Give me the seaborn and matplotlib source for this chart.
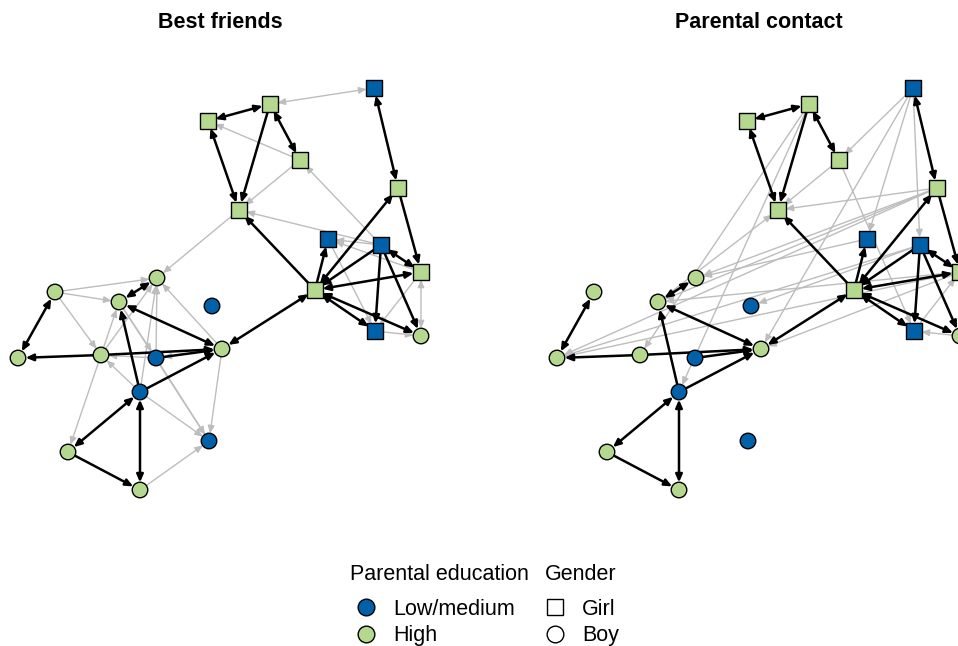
import pandas as pd
import matplotlib.pyplot as plt
from matplotlib.lines import Line2D
import seaborn as sns

# Node layout (shared by both panels)
node_names = ["A", "B", "C", "D", "E", "F", "G", "H", "I", "J", "K", "L",
              "M", "N", "O", "P", "Q", "R", "S", "T", "U", "V", "W", "X"]
node_x = [208, 270, 300, 239, 374, 398, 328, 381, 421, 315, 375, 421,
          55, 157, 119, 212, 222, 18, 101, 156, 140, 68, 209, 140]
node_y = [121, 104, 160, 210, 88, 188, 239, 245, 272, 290, 331, 336,
          292, 278, 302, 306, 349, 358, 355, 358, 392, 452, 441, 490]
node_edu = ["High", "High", "High", "High", "Low/medium", "High", "Low/medium",
            "Low/medium", "High", "High", "Low/medium", "High",
            "High", "High", "High", "Low/medium", "High", "High", "High",
            "Low/medium", "Low/medium", "High", "Low/medium", "High"]
node_gender = ["Girl"] * 11 + ["Boy"] * 13

# Strong ties (black), same in both panels: (from, to, mutual)
black_edges = [("A", "B", True), ("A", "D", True), ("B", "D", False), ("B", "C", True),
               ("E", "F", True), ("F", "I", False), ("J", "D", False), ("J", "G", False),
               ("J", "F", True), ("H", "J", False), ("I", "J", True), ("J", "K", True),
               ("J", "L", True), ("H", "K", False), ("H", "L", False), ("H", "I", True),
               ("Q", "J", True), ("M", "R", True), ("O", "N", True), ("O", "Q", True),
               ("U", "O", False), ("S", "R", False), ("S", "Q", False), ("T", "Q", False),
               ("U", "Q", False), ("U", "V", True), ("U", "X", True), ("V", "X", False)]

# Weaker ties (grey), per panel
gray_friends = [("E", "B", True), ("C", "A", False), ("C", "D", False), ("H", "C", False),
                ("H", "D", False), ("H", "G", False), ("I", "G", False), ("G", "K", False),
                ("I", "K", False), ("K", "L", False), ("L", "I", True), ("D", "N", False),
                ("M", "N", False), ("M", "O", False), ("M", "S", False), ("Q", "N", False),
                ("S", "N", False), ("S", "O", False), ("T", "N", False), ("U", "N", False),
                ("O", "T", False), ("T", "S", False), ("U", "S", False), ("Q", "T", False),
                ("Q", "W", False), ("O", "W", False), ("T", "W", False), ("U", "W", False),
                ("X", "W", False), ("S", "V", False)]
gray_parents = [("E", "C", False), ("E", "G", False), ("E", "H", False), ("E", "Q", False),
                ("B", "U", False), ("B", "S", False), ("C", "D", False), ("C", "K", False),
                ("O", "D", False), ("F", "D", False), ("F", "N", False), ("F", "R", False),
                ("F", "O", False), ("H", "R", False), ("H", "P", False), ("G", "N", False),
                ("I", "O", False), ("I", "Q", False), ("I", "R", False), ("L", "K", False),
                ("K", "I", False)]

panel_titles = ["Best friends", "Parental contact"]
panel_gray = [gray_friends, gray_parents]

edu_palette = {"Low/medium": "#0061A8", "High": "#B4D88E"}
gender_markers = {"Girl": "s", "Boy": "o"}

nodes = pd.DataFrame({"name": node_names, "x": node_x, "y": node_y,
                      "Parental education": node_edu, "Gender": node_gender})
pos = {n: (x, y) for n, x, y in zip(node_names, node_x, node_y)}

sns.set_theme(style="white")
plt.rcParams['font.family'] = ['Liberation Sans', 'DejaVu Sans']
plt.rcParams['text.color'] = 'black'

fig = plt.figure(figsize=(9.58, 6.46), dpi=100)
panel_w = 539 / 958


def draw_edges(ax, edges, color, lw, z):
    for src, dst, mutual in edges:
        style = "<|-|>" if mutual else "-|>"
        ax.annotate("", xy=pos[dst], xytext=pos[src], zorder=z,
                    arrowprops=dict(arrowstyle=style + ",head_length=0.5,head_width=0.22",
                                    color=color, lw=lw, shrinkA=5.5, shrinkB=5.5,
                                    mutation_scale=9))


for i, title in enumerate(panel_titles):
    ax = fig.add_axes([i * panel_w, 0, panel_w, 1])
    draw_edges(ax, panel_gray[i], "#BDBDBD", 1.0, 1)
    draw_edges(ax, black_edges, "black", 1.8, 2)
    sns.scatterplot(data=nodes, x="x", y="y", hue="Parental education",
                    style="Gender", palette=edu_palette, markers=gender_markers,
                    s=125, edgecolor="black", linewidth=1, legend=False,
                    zorder=3, ax=ax)
    ax.set_xlim(0, 539)
    ax.set_ylim(646, 0)
    ax.text(220, 22, title, ha="center", va="center", fontsize=15.5,
            fontweight="bold")
    ax.set_axis_off()

# Legends (titles drawn as separate text for spacing control)
edu_handles = [Line2D([], [], marker="o", linestyle="", markersize=12,
                      markerfacecolor=edu_palette[k], markeredgecolor="black",
                      markeredgewidth=1) for k in edu_palette]
gender_handles = [Line2D([], [], marker=gender_markers[k], linestyle="", markersize=12,
                         markerfacecolor="white", markeredgecolor="black",
                         markeredgewidth=1) for k in gender_markers]

common = dict(loc="upper left", frameon=False, fontsize=15.5,
              handlelength=1.5, handletextpad=0.5, labelspacing=0.25,
              borderpad=0, borderaxespad=0)
fig.text(350 / 958, 1 - 575 / 646, "Parental education", fontsize=15.5,
         ha="left", va="center")
fig.text(545 / 958, 1 - 575 / 646, "Gender", fontsize=15.5,
         ha="left", va="center")
fig.legend(edu_handles, list(edu_palette),
           bbox_to_anchor=(350 / 958, 1 - 599 / 646), **common)
fig.legend(gender_handles, list(gender_markers),
           bbox_to_anchor=(539 / 958, 1 - 599 / 646), **common)

fig.savefig("out.png", dpi=100)
